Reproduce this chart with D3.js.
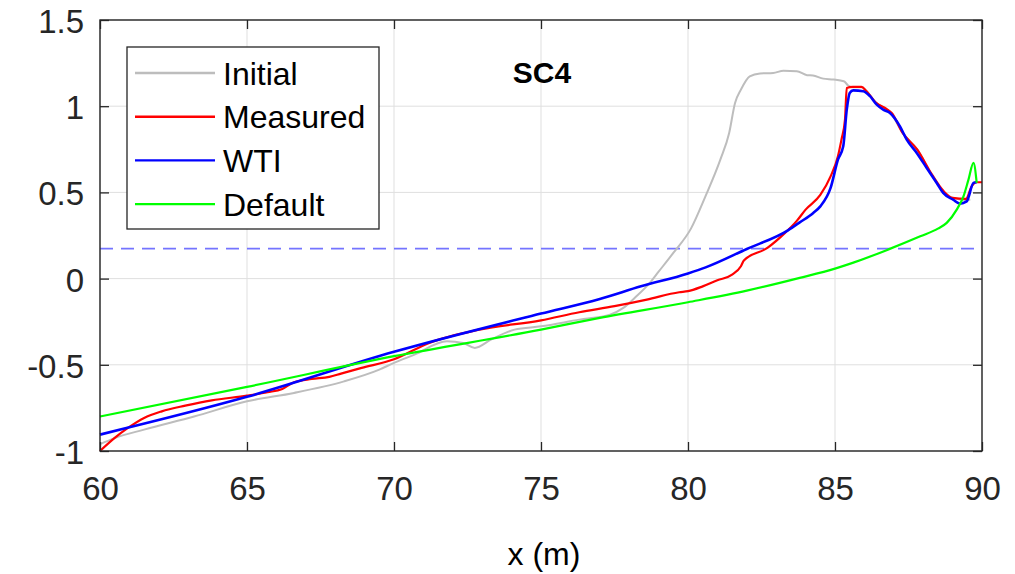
<!DOCTYPE html>
<html><head><meta charset="utf-8">
<script src="https://cdn.jsdelivr.net/npm/d3@7"></script>
<style>body{margin:0;background:#fff}svg{display:block}</style>
</head><body>
<svg id="chart" width="1015" height="574"></svg>
<script>
const seriesNames = ["Initial", "Measured", "WTI", "Default"];
const seriesColors = ["#bdbdbd", "#ff0000", "#0000ff", "#00ff00"];

const initialX = [60, 60.5, 61.5, 63.2, 65, 66.6, 68.3, 69.5, 70, 70.7, 71.8, 72.35, 72.75, 73.3, 74.1, 75, 76.3, 77.35, 77.8, 78.2, 78.7, 79.0, 79.5, 80.1, 80.6, 81.1, 81.4, 81.6, 81.8, 82.1, 82.45, 82.9, 83.25, 83.7, 84.05, 84.25, 84.6, 84.95, 85.3, 85.45, 85.6, 85.9, 86.4, 86.9, 87.3, 87.8, 88.3, 88.7, 89.0, 89.5, 89.6];
const initialY = [-0.96, -0.925, -0.876, -0.80, -0.712, -0.663, -0.596, -0.528, -0.489, -0.441, -0.364, -0.373, -0.402, -0.354, -0.296, -0.277, -0.238, -0.209, -0.17, -0.11, -0.025, 0.04, 0.149, 0.29, 0.48, 0.69, 0.845, 1.019, 1.096, 1.173, 1.19, 1.193, 1.205, 1.203, 1.18, 1.178, 1.16, 1.155, 1.145, 1.12, 1.11, 1.11, 1.02, 0.96, 0.845, 0.748, 0.60, 0.50, 0.468, 0.455, 0.46];

const measuredX = [60, 60.5, 60.95, 61.5, 62.1, 62.9, 63.8, 65, 65.7, 66.2, 66.6, 67.2, 67.8, 68.2, 68.9, 70, 71.2, 72.9, 75, 76.3, 77.5, 78.6, 79.7, 80.0, 80.5, 81.0, 81.5, 81.8, 81.9, 82.7, 83.3, 83.7, 84.0, 84.5, 84.85, 85.1, 85.22, 85.34, 85.4, 85.6, 85.9, 86.07, 86.4, 86.75, 86.93, 87.3, 87.8, 88.3, 88.7, 89.0, 89.45, 89.65, 89.8, 90];
const measuredY = [-1.0, -0.924, -0.866, -0.808, -0.77, -0.737, -0.706, -0.679, -0.659, -0.64, -0.601, -0.582, -0.57, -0.551, -0.518, -0.468, -0.373, -0.296, -0.242, -0.195, -0.16, -0.122, -0.079, -0.073, -0.045, -0.01, 0.023, 0.072, 0.105, 0.178, 0.265, 0.335, 0.40, 0.485, 0.593, 0.71, 0.806, 0.922, 1.106, 1.112, 1.112, 1.087, 1.019, 0.984, 0.961, 0.845, 0.748, 0.603, 0.506, 0.468, 0.462, 0.535, 0.559, 0.559];

const wtiX = [60, 65, 70, 75, 77, 78.4, 80, 80.6, 82, 83.4, 83.8, 84.26, 84.5, 84.85, 85.1, 85.28, 85.4, 85.5, 85.62, 85.96, 86.19, 86.42, 86.64, 86.87, 87.21, 87.44, 87.78, 88.12, 88.46, 88.68, 89.02, 89.25, 89.48, 89.71, 89.82];
const wtiY = [-0.905, -0.686, -0.425, -0.203, -0.118, -0.045, 0.03, 0.065, 0.172, 0.28, 0.326, 0.381, 0.419, 0.526, 0.69, 0.767, 0.98, 1.077, 1.092, 1.087, 1.058, 1.009, 0.98, 0.961, 0.883, 0.806, 0.729, 0.642, 0.555, 0.497, 0.458, 0.435, 0.448, 0.555, 0.559];

const defaultX = [60, 65, 70, 75, 77, 80, 82, 83.8, 85, 85.6, 86.8, 87.9, 88.5, 88.8, 89.14, 89.37, 89.54, 89.71, 89.82];
const defaultY = [-0.80, -0.628, -0.45, -0.296, -0.228, -0.137, -0.07, 0.004, 0.058, 0.091, 0.168, 0.245, 0.29, 0.323, 0.40, 0.477, 0.574, 0.671, 0.555];

const thresholdValue = 0.174;
const thresholdRange = [60, 89.75];

const xTicks = [60, 65, 70, 75, 80, 85, 90];
const xTickLabels = ["60", "65", "70", "75", "80", "85", "90"];
const yTicks = [-1, -0.5, 0, 0.5, 1, 1.5];
const yTickLabels = ["-1", "-0.5", "0", "0.5", "1", "1.5"];
const titleText = "SC4";
const xLabelText = "x (m)";

const svg = d3.select("#chart");
const pL = 100, pR = 982, pT = 20, pB = 451;
const x = d3.scaleLinear().domain([60, 90]).range([pL, pR]);
const y = d3.scaleLinear().domain([-1, 1.5]).range([pB, pT]);
const axisColor = "#262626";
const font = "'Liberation Sans', Arial, sans-serif";

// grid
const grid = svg.append("g");
grid.selectAll("line.gx").data(xTicks).join("line")
  .attr("x1", d => x(d)).attr("x2", d => x(d)).attr("y1", pT).attr("y2", pB)
  .attr("stroke", "#dfdfdf").attr("stroke-width", 1);
grid.selectAll("line.gy").data(yTicks).join("line")
  .attr("y1", d => y(d)).attr("y2", d => y(d)).attr("x1", pL).attr("x2", pR)
  .attr("stroke", "#dfdfdf").attr("stroke-width", 1);

// threshold dashed
svg.append("line")
  .attr("x1", x(thresholdRange[0])).attr("x2", x(thresholdRange[1]))
  .attr("y1", y(thresholdValue)).attr("y2", y(thresholdValue))
  .attr("stroke", "#7474ff").attr("stroke-width", 1.6).attr("stroke-dasharray", "13,8");

// lines
const seriesData = [
  d3.zip(initialX, initialY),
  d3.zip(measuredX, measuredY),
  d3.zip(wtiX, wtiY),
  d3.zip(defaultX, defaultY)
];
const widths = [2, 2.2, 2.6, 2.2];
const line = d3.line().x(d => x(d[0])).y(d => y(d[1])).curve(d3.curveMonotoneX);
seriesData.forEach((s, i) => {
  svg.append("path").datum(s).attr("d", line)
    .attr("fill", "none").attr("stroke", seriesColors[i])
    .attr("stroke-width", widths[i]).attr("stroke-linejoin", "round");
});

// axes
function styleAxis(g) {
  g.select(".domain").remove();
  g.selectAll(".tick line").attr("stroke", axisColor).attr("stroke-width", 1.3);
  g.selectAll(".tick text").attr("fill", axisColor).attr("font-family", font).attr("font-size", 33);
}
svg.append("g").attr("transform", `translate(0,${pB})`)
  .call(d3.axisBottom(x).tickValues(xTicks).tickSize(-9).tickPadding(26)
    .tickFormat((d, i) => xTickLabels[i]))
  .call(styleAxis);
svg.append("g").attr("transform", `translate(0,${pT})`)
  .call(d3.axisTop(x).tickValues(xTicks).tickSize(-9).tickFormat(""))
  .call(styleAxis);
const yl = svg.append("g").attr("transform", `translate(${pL},0)`)
  .call(d3.axisLeft(y).tickValues(yTicks).tickSize(-9).tickPadding(16)
    .tickFormat((d, i) => yTickLabels[i]))
  .call(styleAxis);
yl.selectAll(".tick text").attr("dy", "0.38em");
svg.append("g").attr("transform", `translate(${pR},0)`)
  .call(d3.axisRight(y).tickValues(yTicks).tickSize(-9).tickFormat(""))
  .call(styleAxis);

// box
svg.append("rect").attr("x", pL).attr("y", pT).attr("width", pR - pL).attr("height", pB - pT)
  .attr("fill", "none").attr("stroke", axisColor).attr("stroke-width", 1.4);

// title
svg.append("text").attr("x", 542).attr("y", 83).attr("text-anchor", "middle")
  .attr("font-family", font).attr("font-weight", "bold").attr("font-size", 30)
  .attr("fill", "#000").text(titleText);

// x label
svg.append("text").attr("x", 544).attr("y", 565).attr("text-anchor", "middle")
  .attr("font-family", font).attr("font-size", 32).attr("fill", "#000").text(xLabelText);

// legend
const lg = svg.append("g");
lg.append("rect").attr("x", 127).attr("y", 47).attr("width", 252).attr("height", 182)
  .attr("fill", "#fff").attr("stroke", axisColor).attr("stroke-width", 1.3);
seriesNames.forEach((n, i) => {
  const yy = 73 + i * 43.7;
  lg.append("line").attr("x1", 135).attr("x2", 215).attr("y1", yy).attr("y2", yy)
    .attr("stroke", seriesColors[i]).attr("stroke-width", 2.4);
  lg.append("text").attr("x", 223).attr("y", yy).attr("dy", "0.36em")
    .attr("font-family", font).attr("font-size", 32).attr("fill", "#000").text(n);
});
</script>
</body></html>
